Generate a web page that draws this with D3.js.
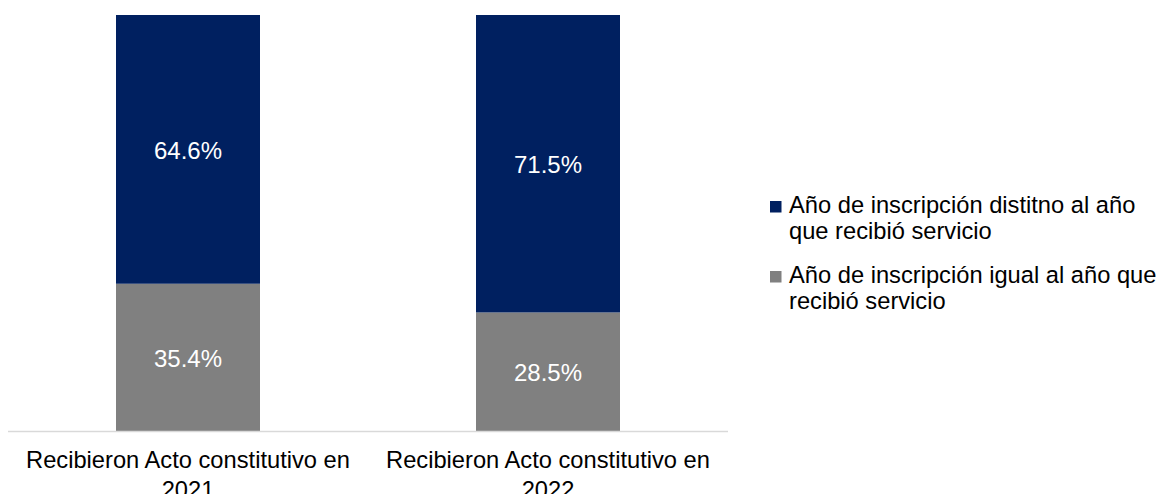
<!DOCTYPE html>
<html>
<head>
<meta charset="utf-8">
<script src="https://cdn.jsdelivr.net/npm/d3@7/dist/d3.min.js"></script>
<style>
  html, body { margin: 0; padding: 0; background: #fff; }
  svg { display: block; font-family: "Liberation Sans", Arial, sans-serif; }
</style>
</head>
<body>
<svg id="chart" width="1163" height="494"></svg>
<script>
// Categories (two lines each) and series shares, in percent
const categories = ["Recibieron Acto constitutivo en 2021", "Recibieron Acto constitutivo en 2022"];
const categoryLines = [["Recibieron Acto constitutivo en", "2021"], ["Recibieron Acto constitutivo en", "2022"]];
const seriesNames = ["Año de inscripción igual al año que recibió servicio", "Año de inscripción distitno al año que recibió servicio"];
const igualValues = [35.4, 28.5];
const distintoValues = [64.6, 71.5];
const legendLines = [["Año de inscripción distitno al año", "que recibió servicio"], ["Año de inscripción igual al año que", "recibió servicio"]];

const colors = { igual: "#808080", distinto: "#002060" };

const svg = d3.select("#chart");
const plot = { left: 8, right: 728, top: 15, bottom: 431 };

const x = d3.scaleBand().domain(categories).range([plot.left, plot.right]).paddingInner(0.6).paddingOuter(0.3);
const y = d3.scaleLinear().domain([0, 100]).range([plot.bottom, plot.top]);

const rows = categories.map((c, i) => ({ cat: c, igual: igualValues[i], distinto: distintoValues[i] }));
const stack = d3.stack().keys(["igual", "distinto"])(rows);

const g = svg.append("g");
stack.forEach(layer => {
  g.selectAll(null).data(layer).enter().append("rect")
    .attr("x", d => x(d.data.cat))
    .attr("width", x.bandwidth())
    .attr("y", d => y(d[1]))
    .attr("height", d => y(d[0]) - y(d[1]))
    .attr("fill", colors[layer.key]);
  g.selectAll(null).data(layer).enter().append("text")
    .attr("x", d => x(d.data.cat) + x.bandwidth() / 2)
    .attr("y", d => (y(d[0]) + y(d[1])) / 2 + 9.5)
    .attr("text-anchor", "middle")
    .attr("font-size", 24)
    .attr("fill", "#fff")
    .text(d => d.data[layer.key].toFixed(1) + "%");
});

// Category axis baseline
svg.append("line")
  .attr("x1", plot.left).attr("x2", plot.right)
  .attr("y1", plot.bottom + 0.5).attr("y2", plot.bottom + 0.5)
  .attr("stroke", "#d9d9d9").attr("stroke-width", 1.5);

categories.forEach((c, i) => {
  const cx = x(c) + x.bandwidth() / 2;
  const t = svg.append("text")
    .attr("x", cx)
    .attr("y", 468)
    .attr("text-anchor", "middle")
    .attr("font-size", 23.7)
    .attr("fill", "#000");
  categoryLines[i].forEach((ln, j) => {
    t.append("tspan").attr("x", cx).attr("dy", j === 0 ? 0 : 30).text(ln);
  });
});

// Legend
const legendItems = [
  { color: colors.distinto, lines: legendLines[0], y: 212 },
  { color: colors.igual, lines: legendLines[1], y: 282 }
];
legendItems.forEach(item => {
  svg.append("rect").attr("x", 770).attr("y", item.y - 11).attr("width", 11.5).attr("height", 11.5).attr("fill", item.color);
  const t = svg.append("text").attr("x", 789).attr("y", item.y + 1).attr("font-size", 23.7).attr("fill", "#000");
  item.lines.forEach((ln, j) => {
    t.append("tspan").attr("x", 789).attr("dy", j === 0 ? 0 : 26).text(ln);
  });
});
</script>
</body>
</html>
